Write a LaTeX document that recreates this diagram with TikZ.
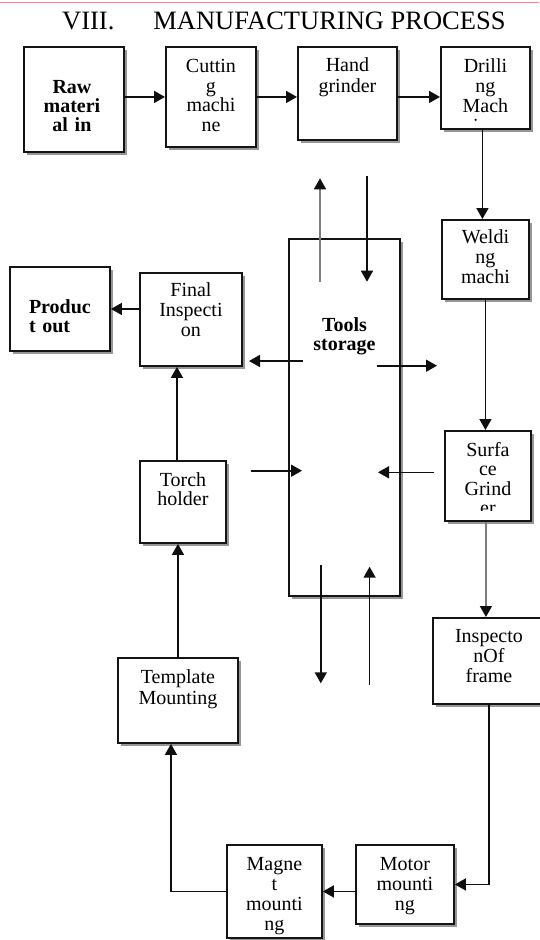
\documentclass[tikz,border=0pt]{standalone}
\usepackage{fontspec}
\setmainfont{Liberation Serif}
\usetikzlibrary{arrows.meta,shadows,positioning}
\setlength{\lineskiplimit}{-50pt}
\definecolor{boxbdr}{RGB}{20,20,20}
\definecolor{shadeclr}{RGB}{150,150,150}
\definecolor{ruleclr}{RGB}{226,140,140}
\definecolor{arrowclr}{RGB}{15,15,15}
\definecolor{greyshaft}{RGB}{125,125,125}
\tikzset{
  blk/.style={rectangle,draw=boxbdr,line width=1.9pt,fill=white,
    anchor=north west,inner sep=0pt,
    drop shadow={shadow xshift=3pt,shadow yshift=-3pt,fill=shadeclr,opacity=1}},
  txt/.style={anchor=base,inner sep=0pt,text width=110pt,align=center,
    font=\fontsize{20}{#1}\selectfont},
  btxt/.style={txt=#1,font=\bfseries\fontsize{20}{#1}\selectfont},
  arr/.style={-{Triangle[length=11pt,width=12pt]},line width=1.6pt,color=arrowclr},
  garr/.style={arr,color=greyshaft,-{Triangle[length=11pt,width=12pt,color=arrowclr]}},
}

\begin{document}
\begin{tikzpicture}[x=1pt,y=-1pt]
  \useasboundingbox (0,0) rectangle (539,940);
  \draw[ruleclr,line width=1pt] (0,2) -- (539,2);
  \node[anchor=base west,inner sep=0pt,font=\fontsize{26.5}{26.5}\selectfont] (title)
    at (62,29.5) {VIII.\hspace{39pt}MANUFACTURING PROCESS};

  % boxes
  \node[blk,minimum width=100pt,minimum height=105pt] (raw)   at (23,46)   {};
  \node[blk,minimum width=90pt, minimum height=100pt] (cut)   at (165,46)  {};
  \node[blk,minimum width=99pt, minimum height=93pt]  (hand)  at (297,46)  {};
  \node[blk,minimum width=89pt, minimum height=82pt]  (drill) at (440,46)  {};
  \node[blk,minimum width=87pt, minimum height=79pt]  (weld)  at (441,219) {};
  \node[blk,minimum width=111pt,minimum height=357pt] (tools) at (288,238) {};
  \node[blk,minimum width=100pt,minimum height=84pt]  (prod)  at (9,266)   {};
  \node[blk,minimum width=102pt,minimum height=93pt]  (final) at (139,272) {};
  \node[blk,minimum width=86pt, minimum height=90pt]  (surf)  at (444,430) {};
  \node[blk,minimum width=86pt, minimum height=82pt]  (torch) at (139,460) {};
  \node[blk,minimum width=112pt,minimum height=86pt]  (insp)  at (432,617) {};
  \node[blk,minimum width=120pt,minimum height=85pt]  (templ) at (117,657) {};
  \node[blk,minimum width=95pt, minimum height=93pt]  (mgnt)  at (226,844) {};
  \node[blk,minimum width=98pt, minimum height=79pt]  (motor) at (355,844) {};

  % box texts
  \node[btxt=19] (rawt) at ([xshift=-2pt,yshift=-47pt]raw.north) {Raw\\materi\\al in};
  \node[txt=19.7] (cutt) at ([yshift=-26.5pt]cut.north) {Cuttin\\g\\machi\\ne};
  \node[txt=21] (handt) at ([yshift=-25.7pt]hand.north) {Hand\\grinder};
  \begin{scope}
    \clip ([xshift=2pt,yshift=-2pt]drill.north west)
      rectangle ([xshift=-2pt,yshift=9.5pt]drill.south east);
    \node[txt=20] (drillt) at ([yshift=-26pt]drill.north) {Drilli\\ng\\Mach\\ine};
  \end{scope}
  \node[txt=20] (weldt) at ([yshift=-24.3pt]weld.north) {Weldi\\ng\\machi};
  \node[btxt=19] (toolst) at ([yshift=-93.4pt]tools.north) {Tools\\storage};
  \node[btxt=19] (prodt) at ([xshift=52pt,yshift=-47pt]prod.north west)
    {\makebox[64pt][l]{Produc}\\\makebox[64pt][l]{t out}};
  \node[txt=20] (finalt) at ([yshift=-24pt]final.north) {Final\\Inspecti\\on};
  \begin{scope}
    \clip ([xshift=2pt,yshift=-2pt]surf.north west)
      rectangle ([xshift=-2pt,yshift=11pt]surf.south east);
    \node[txt=19.5] (surft) at ([yshift=-26pt]surf.north) {Surfa\\ce\\Grind\\er};
  \end{scope}
  \node[txt=19] (torcht) at ([yshift=-26pt]torch.north) {Torch\\holder};
  \node[txt=20] (inspt) at ([yshift=-25.7pt]insp.north) {Inspecto\\nOf\\frame};
  \node[txt=21] (templt) at ([yshift=-26.3pt]templ.north) {Template\\Mounting};
  \node[txt=20] (mgntt) at ([yshift=-26pt]mgnt.north) {Magne\\t\\mounti\\ng};
  \node[txt=20] (motort) at ([yshift=-26pt]motor.north) {Motor\\mounti\\ng};

  % process flow
  \draw[arr] (raw.east |- cut.west) -- (cut.west);
  \draw[arr] (cut.east) -- (cut.east -| hand.west);
  \draw[arr] (hand.east |- cut.east) -- (drill.west |- cut.east);
  \draw[arr] ([xshift=-3pt]drill.south) -- ([xshift=-3pt]drill.south |- weld.north);
  \draw[arr] (weld.south) -- (weld.south |- surf.north);
  \draw[garr] ([xshift=-2pt]surf.south) -- ([xshift=-2pt]surf.south |- insp.north);
  \draw[arr] (insp.south) |- (motor.east);
  \draw[arr] (motor.west |- mgnt.east) -- (mgnt.east);
  \draw[arr] (mgnt.west) -| ([xshift=-7pt]templ.south);
  \draw[arr] (templ.north) -- (templ.north |- torch.south);
  \draw[arr] ([xshift=-6pt]torch.north) -- ([xshift=-6pt]torch.north |- final.south);
  \draw[arr] (final.west |- prod.east) -- (prod.east);

  % tools storage in and out
  \foreach \nm/\px/\py in {ut0/320/281.7, ut1/320/178.3, dt0/367/176, dt1/367/281.7,
      lm0/302.5/361, lm1/249/361, rm0/377/365.7, rm1/437/365.7,
      li0/251/470.7, li1/302/470.7, ri0/434/472.3, ri1/378/472.3,
      db0/320.8/565, db1/320.8/683.3, ub0/369.6/685, ub1/369.6/566.7}
    \coordinate (\nm) at (\px,\py);
  \draw[garr] (ut0) -- (ut1);
  \foreach \a/\b in {dt0/dt1, lm0/lm1, rm0/rm1, li0/li1, ri0/ri1, db0/db1, ub0/ub1}
    \draw[arr] (\a) -- (\b);

\end{tikzpicture}
\end{document}
